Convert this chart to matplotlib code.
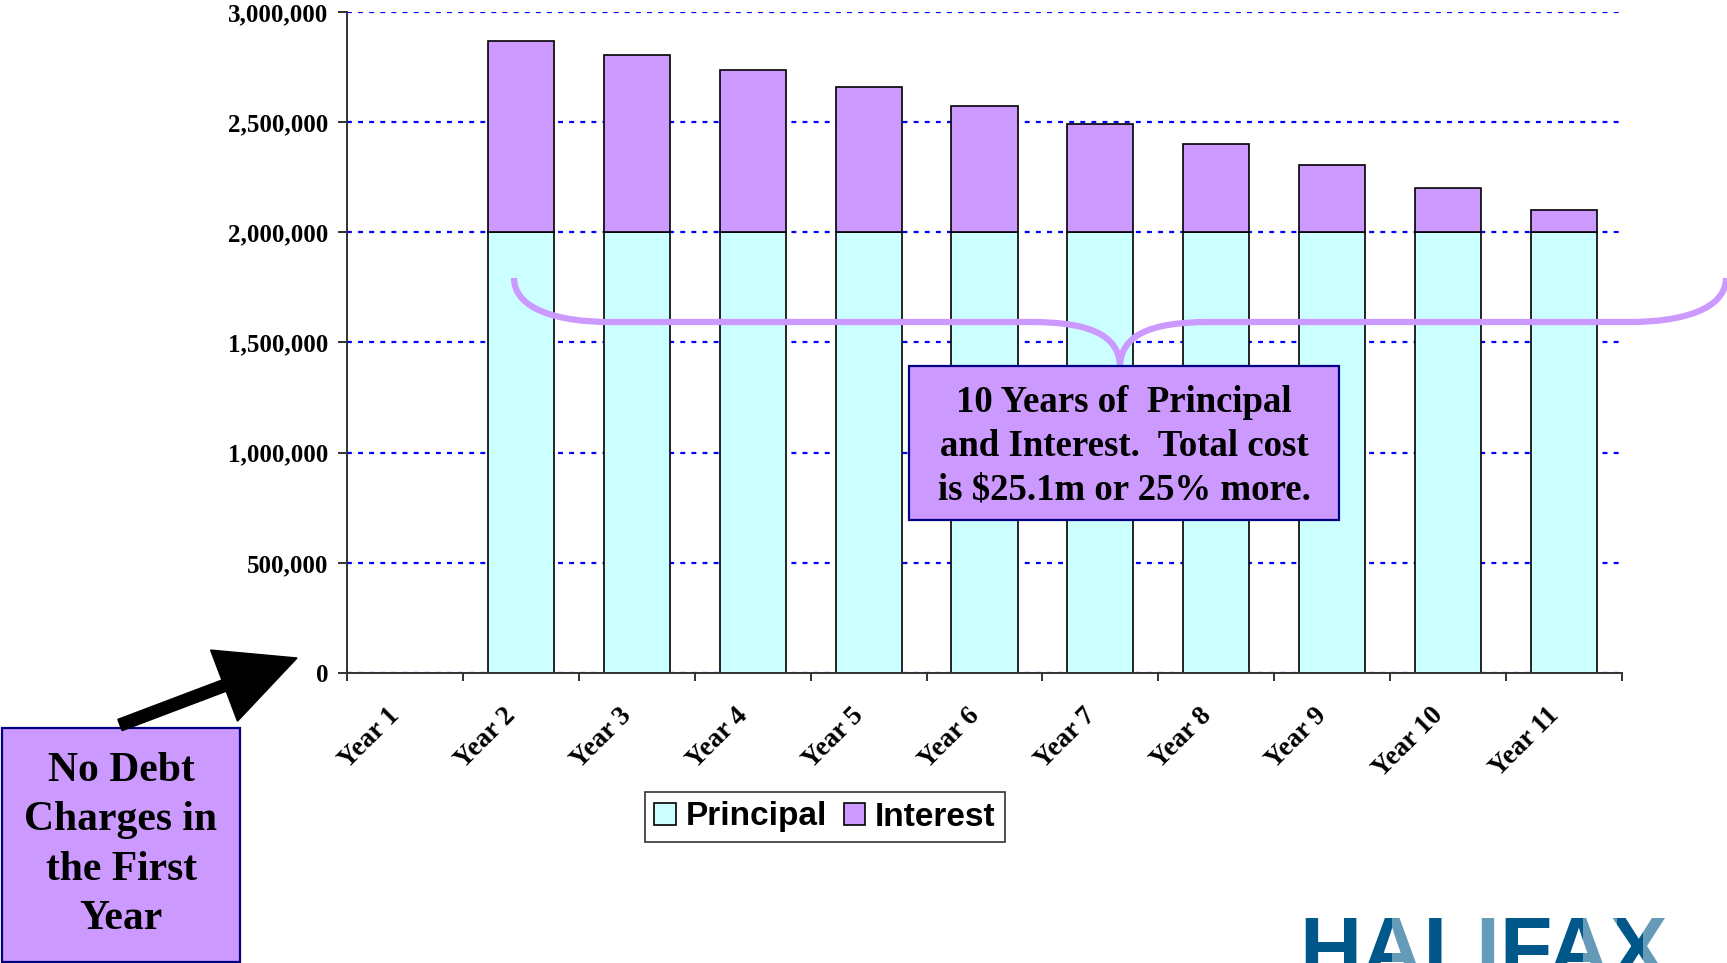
import matplotlib
matplotlib.use("Agg")
import matplotlib.pyplot as plt
import numpy as np
from matplotlib.patches import Rectangle, FancyArrow, PathPatch
from matplotlib.path import Path
from matplotlib.ticker import FuncFormatter
import matplotlib.transforms as mtransforms

# ---------------- data ----------------
years = ["Year 1", "Year 2", "Year 3", "Year 4", "Year 5", "Year 6",
         "Year 7", "Year 8", "Year 9", "Year 10", "Year 11"]
principal = [0, 2000000, 2000000, 2000000, 2000000, 2000000,
             2000000, 2000000, 2000000, 2000000, 2000000]
interest = [0, 870000, 805000, 735000, 660000, 575000,
            490000, 400000, 305000, 200000, 100000]
yticks = [0, 500000, 1000000, 1500000, 2000000, 2500000, 3000000]
series_names = ["Principal", "Interest"]

# ---------------- figure ----------------
W, H, DPI = 1727, 963, 100
plt.rcParams["font.family"] = ["Liberation Serif", "DejaVu Serif"]
plt.rcParams["font.weight"] = "bold"

fig = plt.figure(figsize=(W / DPI, H / DPI), dpi=DPI)
fig.patch.set_facecolor("white")
ax = fig.add_axes([347 / W, 1 - 673 / H, (1622 - 347) / W, (673 - 12) / H])

PRIN_C = "#CCFFFF"
INT_C = "#CC99FF"
x = np.arange(len(years))
bw = 0.57
b1 = ax.bar(x, principal, bw, color=PRIN_C, edgecolor="black", linewidth=1.2,
            label=series_names[0], zorder=3)
b2 = ax.bar(x, interest, bw, bottom=principal, color=INT_C, edgecolor="black",
            linewidth=1.2, label=series_names[1], zorder=3)

ax.set_xlim(-0.5, len(years) - 0.5)
ax.set_ylim(0, 3000000)
ax.set_axisbelow(True)
ax.yaxis.grid(True, color="#0000FF", linestyle=(0, (2.2, 2.8)), linewidth=1.6)
ax.xaxis.grid(False)

for s in ["top", "right"]:
    ax.spines[s].set_visible(False)
for s in ["left", "bottom"]:
    ax.spines[s].set_color("#333333")
    ax.spines[s].set_linewidth(1.4)
    ax.spines[s].set_zorder(4)

ax.set_yticks(yticks)
ax.yaxis.set_major_formatter(FuncFormatter(lambda v, p: f"{int(v):,}"))
ax.tick_params(axis="y", length=6.5, width=1.4, color="#333333", pad=7,
               labelsize=18)

ax.set_xticks(x)
ax.set_xticklabels(years, rotation=45, ha="right", va="center",
                   rotation_mode="anchor", fontsize=19.5)
ax.tick_params(axis="x", which="major", length=0, pad=28)
ax.set_xticks(np.arange(-0.5, len(years), 1.0), minor=True)
ax.tick_params(axis="x", which="minor", length=6, width=1.4,
               color="#333333", direction="out")
offset = mtransforms.ScaledTranslation(-0.09, 0, fig.dpi_scale_trans)
for lab in ax.get_xticklabels():
    lab.set_transform(lab.get_transform() + offset)

# legend
leg = fig.legend(handles=[b1, b2], labels=series_names, loc="center",
                 bbox_to_anchor=(825 / W, 1 - 817 / H), ncol=2, frameon=True,
                 fancybox=False, edgecolor="black",
                 prop=dict(family="Liberation Sans", weight="bold", size=24),
                 handlelength=0.64, handleheight=0.64, handletextpad=0.3,
                 columnspacing=0.5, borderpad=0.28, borderaxespad=0)
leg.get_frame().set_linewidth(1.2)

T = fig.dpi_scale_trans


def P(px, py):
    return (px / DPI, (H - py) / DPI)


# curly brace
verts = [P(514, 278), P(514, 310), P(560, 322), P(610, 322),
         P(1030, 322),
         P(1090, 322), P(1118, 335), P(1120, 365),
         P(1122, 335), P(1150, 322), P(1210, 322),
         P(1630, 322),
         P(1680, 322), P(1726, 310), P(1726, 278)]
codes = [Path.MOVETO, Path.CURVE4, Path.CURVE4, Path.CURVE4,
         Path.LINETO,
         Path.CURVE4, Path.CURVE4, Path.CURVE4,
         Path.CURVE4, Path.CURVE4, Path.CURVE4,
         Path.LINETO,
         Path.CURVE4, Path.CURVE4, Path.CURVE4]
brace = PathPatch(Path(verts, codes), facecolor="none", edgecolor=INT_C,
                  linewidth=4.5, transform=T, zorder=2, joinstyle="round",
                  capstyle="butt")
fig.add_artist(brace)

# annotation box
x0, y0, x1, y1 = 909, 366, 1339, 520
fig.add_artist(Rectangle(P(x0, y1), (x1 - x0) / DPI, (y1 - y0) / DPI,
                         facecolor=INT_C, edgecolor="#000080", linewidth=1.6,
                         transform=T, zorder=4))
fig.text((x0 + x1) / 2 / W, 1 - 446 / H,
         "10 Years of  Principal\nand Interest.  Total cost\nis $25.1m or 25% more.",
         ha="center", va="center", multialignment="center", fontsize=26.5,
         linespacing=1.33, zorder=5)

# bottom-left box
x0, y0, x1, y1 = 2, 728, 240, 962
fig.add_artist(Rectangle(P(x0, y1), (x1 - x0) / DPI, (y1 - y0) / DPI,
                         facecolor=INT_C, edgecolor="#000080", linewidth=1.6,
                         transform=T, zorder=4))
fig.text((x0 + x1) / 2 / W, 1 - 845 / H,
         "No Debt\nCharges in\nthe First\nYear",
         ha="center", va="center", multialignment="center", fontsize=30,
         linespacing=1.39, zorder=5)

# arrow
sx, sy = P(120, 725)
ex, ey = P(297, 658)
fig.add_artist(FancyArrow(sx, sy, ex - sx, ey - sy, width=0.12,
                          head_width=0.76, head_length=0.78,
                          length_includes_head=True, color="black",
                          transform=T, zorder=4))

# logo (partly below the bottom edge, as in the reference)
DARK = "#00578A"
lx, ly = P(1299, 977)
fig.text(lx, ly, "HALIFAX", fontsize=62, family="Liberation Sans",
         weight="bold", color=DARK, ha="left", va="baseline",
         transform=T, zorder=5)
# lighter-blue portions of the logo letters
for a, b in [(1392, 1426), (1474, 1502), (1583, 1617), (1643, 1678)]:
    fig.add_artist(Rectangle(P(a, 970), (b - a) / DPI, 80 / DPI,
                             facecolor="white", edgecolor="none", alpha=0.4,
                             transform=T, zorder=6))

fig.savefig("out.png", dpi=DPI, facecolor="white")
